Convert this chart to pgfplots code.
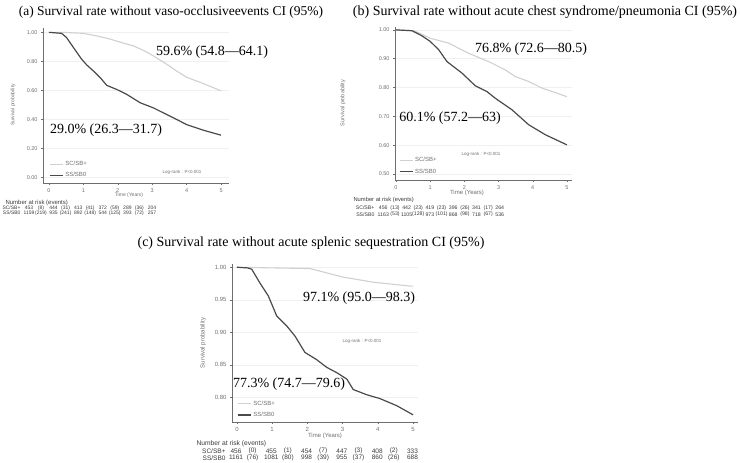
\documentclass[border=0pt]{standalone}
\usepackage{fontspec}
\setmainfont{Liberation Serif}
\newfontfamily\sansf{Liberation Sans}
\usepackage{pgfplots}
\pgfplotsset{compat=1.18}

\definecolor{scc}{HTML}{D0D0D0}
\definecolor{ssc}{HTML}{4A4A4A}
\definecolor{lbl}{HTML}{707070}
\definecolor{riskc}{HTML}{3A3A3A}

\newcommand\sz[1]{\fontsize{#1}{#1}\selectfont}

\pgfplotsset{
  km/.style={
    scale only axis,
    axis x line*=bottom, axis y line*=left,
    axis line style={draw=ssc!80, line width=0.5pt, -},
    tick align=outside, major tick length=2pt,
    tick style={draw=ssc!80, line width=0.4pt},
    xtick={0,1,2,3,4,5},
    ymajorgrids, grid style={gray!12, line width=0.5pt},
    tick label style={font=\sansf\sz{5.5}, text=lbl},
    /pgf/number format/assume math mode=true,
    yticklabel style={/pgf/number format/fixed, /pgf/number format/fixed zerofill, /pgf/number format/precision=2},
    legend cell align=left,
    legend style={draw=none, fill=none, font=\sansf\sz{6}, text=lbl, row sep=1.5pt, inner sep=0pt},
    legend image code/.code={\draw[##1] (0pt,0pt) -- (13pt,0pt);},
  },
  sc/.style={scc, line width=1.1pt},
  ss/.style={ssc, line width=1.2pt},
}

\begin{document}
\begin{tikzpicture}[x=1pt,y=1pt]
\path[use as bounding box] (0,0) rectangle (740,463);

% ---------- (a) vaso-occlusive events ----------
\node[font=\sz{13.5}] at (171,451) {(a) Survival rate without vaso-occlusiveevents CI (95\%)};
\begin{axis}[km, at={(43pt,280pt)}, anchor=south west, width=186pt, height=155pt,
  xmin=-0.17, xmax=5.23, ymin=-0.04, ymax=1.03, ytick={0,0.2,0.4,0.6,0.8,1},
  legend style={at={(axis cs:0.0,0.125)}, anchor=north west}]
\addplot[sc] coordinates {(0,1) (0.5,0.999) (1.0,0.993) (1.4,0.975) (1.77,0.954) (2.1,0.93)
  (2.45,0.907) (2.75,0.875) (3.03,0.838) (3.42,0.78) (3.7,0.735) (4.0,0.69) (4.5,0.645) (5,0.596)};
\addlegendentry{SC/SB+}
\addplot[ss] coordinates {(0,1) (0.37,0.993) (0.51,0.965) (0.7,0.9) (0.95,0.815) (1.1,0.775)
  (1.29,0.734) (1.5,0.685) (1.68,0.634) (1.97,0.606) (2.26,0.572) (2.65,0.514) (3.03,0.479)
  (3.42,0.433) (3.7,0.4) (4.0,0.363) (4.49,0.324) (5,0.29)};
\addlegendentry{SS/SB0}
\end{axis}
\node[font=\sz{14}] at (212,411) {59.6\% (54.8—64.1)};
\node[font=\sz{14}] at (106,333) {29.0\% (26.3—31.7)};
\node[font=\sansf\sz{4.5}, text=lbl] at (182,291) {Log-rank : P<0.001};
\node[font=\sansf\sz{5}, text=lbl, rotate=90] at (13,358) {Survival probability};
\node[font=\sansf\sz{5}, text=lbl] at (129,268) {Time (Years)};
\node[font=\sansf\sz{6}, text=riskc, anchor=west] at (2,260) {Number at risk (events)};
\node[font=\sansf\sz{5}, text=riskc, anchor=east] at (24,255) {SC/SB+};
\node[font=\sansf\sz{5}, text=riskc, anchor=east] at (24,250) {SS/SB0};
\foreach \v [count=\i from 0] in {453,444,413,372,289,204}
  \node[font=\sansf\sz{5}, text=riskc] at ({29+24.6*\i},255) {\v};
\foreach \v [count=\i from 0] in {8,31,41,59,36}
  \node[font=\sansf\sz{5}, text=riskc] at ({41+24.6*\i},255) {(\v)};
\foreach \v [count=\i from 0] in {1159,935,892,544,393,257}
  \node[font=\sansf\sz{5}, text=riskc] at ({29+24.6*\i},250) {\v};
\foreach \v [count=\i from 0] in {219,241,148,125,72}
  \node[font=\sansf\sz{5}, text=riskc] at ({41+24.6*\i},250) {(\v)};

% ---------- (b) acute chest syndrome ----------
\node[font=\sz{14}] at (545,451) {(b) Survival rate without acute chest syndrome/pneumonia CI (95\%)};
\begin{axis}[km, at={(395pt,283pt)}, anchor=south west, width=177pt, height=153pt,
  xmin=-0.03, xmax=5.15, ymin=0.479, ymax=1.01, ytick={0.5,0.6,0.7,0.8,0.9,1},
  legend style={at={(axis cs:0.08,0.565)}, anchor=north west}]
\addplot[sc] coordinates {(0,1) (0.52,0.997) (0.75,0.985) (1.0,0.971) (1.54,0.954) (2.12,0.919)
  (2.71,0.89) (3.2,0.861) (3.49,0.838) (3.88,0.821) (4.27,0.798) (4.6,0.785) (5,0.768)};
\addlegendentry{SC/SB+}
\addplot[ss] coordinates {(0,1) (0.47,0.997) (0.75,0.98) (1.0,0.96) (1.25,0.931) (1.49,0.89)
  (1.93,0.85) (2.32,0.806) (2.66,0.786) (2.9,0.763) (3.39,0.723) (3.88,0.671) (4.37,0.636) (5,0.601)};
\addlegendentry{SS/SB0}
\end{axis}
\node[font=\sz{14}] at (531,414) {76.8\% (72.6—80.5)};
\node[font=\sz{14}] at (450,345) {60.1\% (57.2—63)};
\node[font=\sansf\sz{4.5}, text=lbl] at (481,309) {Log-rank : P<0.001};
\node[font=\sansf\sz{5.5}, text=lbl, rotate=90] at (343,360) {Survival probability};
\node[font=\sansf\sz{6}, text=lbl] at (467,270) {Time (Years)};
\node[font=\sansf\sz{5.8}, text=riskc, anchor=west] at (350,263) {Number at risk (events)};
\node[font=\sansf\sz{5.2}, text=riskc, anchor=east] at (378,255.3) {SC/SB+};
\node[font=\sansf\sz{5.2}, text=riskc, anchor=east] at (378,248.7) {SS/SB0};
\foreach \v [count=\i from 0] in {456,442,419,396,341,264}
  \node[font=\sansf\sz{5.2}, text=riskc] at ({383.3+23.3*\i},255.3) {\v};
\foreach \v [count=\i from 0] in {13,23,23,26,17}
  \node[font=\sansf\sz{5.2}, text=riskc] at ({395+23.3*\i},255.3) {(\v)};
\foreach \v [count=\i from 0] in {1163,1105,973,868,718,536}
  \node[font=\sansf\sz{5.2}, text=riskc] at ({383.3+23.3*\i},248.7) {\v};
\foreach \v [count=\i from 0] in {53,128,101,98,67}
  \node[font=\sansf\sz{5.2}, text=riskc] at ({395+23.3*\i},248.7) {(\v)};

% ---------- (c) acute splenic sequestration ----------
\node[font=\sz{14}] at (311,220) {(c) Survival rate without acute splenic sequestration CI (95\%)};
\begin{axis}[km, at={(232pt,41pt)}, anchor=south west, width=186pt, height=158pt,
  xmin=-0.14, xmax=5.14, ymin=0.762, ymax=1.005, ytick={0.8,0.85,0.9,0.95,1},
  tick label style={font=\sansf\sz{6}},
  legend style={at={(axis cs:0.0,0.798)}, anchor=north west}]
\addplot[sc] coordinates {(0,1) (1.0,0.999) (2.07,0.998) (2.36,0.994) (3.0,0.985) (3.87,0.977)
  (4.92,0.971) (5,0.971)};
\addlegendentry{SC/SB+}
\addplot[ss] coordinates {(0,1) (0.3,0.999) (0.42,0.997) (0.65,0.976) (0.89,0.956) (1.13,0.925)
  (1.41,0.91) (1.65,0.894) (1.93,0.869) (2.26,0.858) (2.55,0.846) (2.83,0.838) (3.12,0.828)
  (3.3,0.812) (3.68,0.804) (4.06,0.798) (4.54,0.787) (5,0.773)};
\addlegendentry{SS/SB0}
\end{axis}
\node[font=\sz{14}] at (359,165) {97.1\% (95.0—98.3)};
\node[font=\sz{14}] at (289,79) {77.3\% (74.7—79.6)};
\node[font=\sansf\sz{4.5}, text=lbl] at (362,122) {Log-rank : P<0.001};
\node[font=\sansf\sz{6}, text=lbl, rotate=90] at (203,120) {Survival probability};
\node[font=\sansf\sz{6}, text=lbl] at (325,27) {Time (Years)};
\node[font=\sansf\sz{6.7}, text=riskc, anchor=west] at (193,19.5) {Number at risk (events)};
\node[font=\sansf\sz{6.5}, text=riskc, anchor=east] at (229,12) {SC/SB+};
\node[font=\sansf\sz{6.5}, text=riskc, anchor=east] at (229,5.3) {SS/SB0};
\foreach \v [count=\i from 0] in {456,455,454,447,408,333}
  \node[font=\sansf\sz{6.5}, text=riskc] at ({236+35.3*\i},12) {\v};
\foreach \v [count=\i from 0] in {0,1,7,3,2}
  \node[font=\sansf\sz{6.5}, text=riskc] at ({252.6+35.3*\i},12) {(\v)};
\foreach \v [count=\i from 0] in {1161,1081,998,955,860,688}
  \node[font=\sansf\sz{6.5}, text=riskc] at ({236+35.3*\i},5.3) {\v};
\foreach \v [count=\i from 0] in {76,80,39,37,26}
  \node[font=\sansf\sz{6.5}, text=riskc] at ({252.6+35.3*\i},5.3) {(\v)};
\end{tikzpicture}
\end{document}
